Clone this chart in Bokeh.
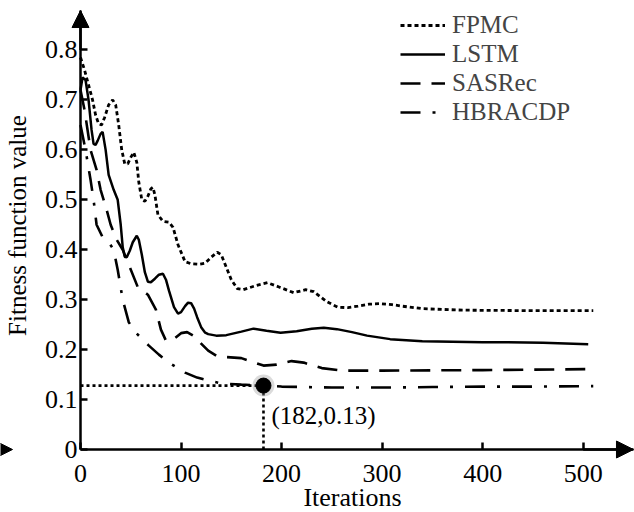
import math
from bokeh.plotting import figure
from bokeh.models import Range1d, FixedTicker, Arrow, NormalHead, Legend, LegendItem, Label
from bokeh.embed import file_html
from bokeh.resources import INLINE

# ---- data ----
x_ticks = [0, 100, 200, 300, 400, 500]
y_ticks = [0, 0.1, 0.2, 0.3, 0.4, 0.5, 0.6, 0.7, 0.8]

fpmc_x = [0, 4, 8, 12, 15, 18, 21, 24, 28, 32, 35, 38, 41, 44, 47, 50, 53, 56, 58, 61, 64, 67,
          70, 72, 74, 77, 82, 88, 92, 97, 104, 110, 118, 124, 130, 136, 140, 145, 150, 156,
          162, 174, 186, 198, 212, 224, 232, 245, 256, 266, 276, 287, 297, 310, 320, 340,
          380, 450, 510]
fpmc_y = [0.785, 0.76, 0.73, 0.70, 0.67, 0.652, 0.65, 0.665, 0.69, 0.70, 0.69, 0.65, 0.60,
          0.572, 0.572, 0.585, 0.595, 0.575, 0.535, 0.50, 0.497, 0.507, 0.522, 0.525, 0.51,
          0.47, 0.457, 0.455, 0.445, 0.41, 0.376, 0.372, 0.371, 0.373, 0.385, 0.395, 0.39,
          0.365, 0.34, 0.322, 0.32, 0.328, 0.334, 0.325, 0.314, 0.32, 0.316, 0.296, 0.285,
          0.284, 0.287, 0.291, 0.292, 0.29, 0.287, 0.282, 0.279, 0.278, 0.278]

lstm_x = [0, 2, 5, 8, 11, 13, 15, 17, 20, 22, 25, 28, 33, 37, 40, 42, 44, 46, 49, 52, 56, 58,
          61, 64, 67, 70, 74, 78, 82, 85, 88, 93, 97, 100, 104, 107, 110, 113, 116, 120, 124,
          127, 135, 145, 160, 172, 185, 199, 215, 230, 242, 255, 270, 285, 308, 340, 400,
          460, 505]
lstm_y = [0.72, 0.745, 0.74, 0.70, 0.64, 0.612, 0.61, 0.618, 0.632, 0.636, 0.60, 0.55, 0.52,
          0.50, 0.45, 0.405, 0.386, 0.385, 0.398, 0.415, 0.428, 0.42, 0.39, 0.355, 0.336,
          0.335, 0.342, 0.35, 0.352, 0.34, 0.318, 0.285, 0.272, 0.275, 0.287, 0.294, 0.293,
          0.282, 0.265, 0.245, 0.234, 0.231, 0.228, 0.229, 0.236, 0.242, 0.238, 0.234, 0.237,
          0.242, 0.244, 0.241, 0.235, 0.228, 0.221, 0.217, 0.215, 0.214, 0.211]

sasrec_x = [0, 4, 10, 16, 20, 26, 30, 36, 42, 48, 57, 67, 75, 80, 85, 92, 100, 106, 112, 120,
            127, 135, 145, 160, 170, 182, 195, 210, 222, 240, 260, 300, 400, 510]
sasrec_y = [0.72, 0.68, 0.60, 0.56, 0.52, 0.48, 0.45, 0.42, 0.40, 0.37, 0.325, 0.31, 0.28,
            0.24, 0.218, 0.22, 0.233, 0.235, 0.228, 0.212, 0.198, 0.188, 0.185, 0.183, 0.176,
            0.168, 0.17, 0.177, 0.174, 0.163, 0.158, 0.158, 0.159, 0.161]

hbracdp_x = [0, 5, 10, 13, 16, 22, 28, 33, 37, 42, 48, 55, 68, 78, 88, 104, 116, 127, 141,
             160, 182, 200, 250, 300, 350, 400, 450, 510]
hbracdp_y = [0.65, 0.60, 0.54, 0.50, 0.45, 0.425, 0.415, 0.40, 0.36, 0.30, 0.255, 0.234,
             0.208, 0.19, 0.174, 0.154, 0.144, 0.138, 0.132, 0.13, 0.128, 0.126, 0.124,
             0.124, 0.125, 0.126, 0.126, 0.127]

best_x = [182]
best_y = [0.128]
best_label = "(182,0.13)"
x_title = "Iterations"
y_title = "Fitness function value"

FONT = "Liberation Serif"
W, H = 634, 512
X0_PX, Y0_PX = 80, 449          # pixel position of the data origin
SX, SY = 1.0054, 499.4          # pixels per data unit
X_AXIS_END, Y_AXIS_END = 550, 0.879

def dx(px):
    return (px - X0_PX) / SX

def dy(py):
    return (Y0_PX - py) / SY

p = figure(width=W, height=H, x_range=Range1d(dx(0), dx(W)), y_range=Range1d(dy(H), dy(0)),
           output_backend="svg", toolbar_location=None, min_border=0)
p.xgrid.visible = False
p.ygrid.visible = False
p.outline_line_color = None
p.background_fill_color = "white"

for ax in (p.xaxis[0], p.yaxis[0]):
    ax.fixed_location = 0
    ax.axis_line_width = 2.5
    ax.axis_line_color = "black"
    ax.major_tick_in = 7
    ax.major_tick_out = 0
    ax.major_tick_line_width = 2.5
    ax.major_tick_line_color = "black"
    ax.minor_tick_line_color = None
    ax.major_label_text_font = FONT
    ax.major_label_text_font_size = "26px"
    ax.major_label_text_color = "black"

p.xaxis.bounds = (0, X_AXIS_END)
p.yaxis.bounds = (0, Y_AXIS_END)
p.xaxis.ticker = FixedTicker(ticks=x_ticks)
p.yaxis.ticker = FixedTicker(ticks=y_ticks)
p.yaxis.major_label_overrides = {0: "0"}
p.xaxis.major_label_standoff = 15
p.yaxis.major_label_standoff = 3

# axis titles
p.add_layout(Label(x=dx(352), y=dy(497), text=x_title, text_font=FONT, text_font_size="26px",
                   text_color="black", text_align="center", text_baseline="alphabetic"))
p.add_layout(Label(x=dx(17), y=dy(225), text=y_title, angle=math.pi / 2,
                   text_font=FONT, text_font_size="25px", text_color="black",
                   text_align="center", text_baseline="alphabetic"))

# axis arrows
head = dict(size=17, fill_color="black", line_color="black")
p.add_layout(Arrow(end=NormalHead(**head), x_start=0, y_start=0.8, x_end=0, y_end=Y_AXIS_END,
                   line_width=2.5, line_color="black"))
p.add_layout(Arrow(end=NormalHead(**head), x_start=500, y_start=0, x_end=X_AXIS_END, y_end=0,
                   line_width=2.5, line_color="black"))
# stray arrow tip at the left edge of the reference image
p.add_layout(Arrow(end=NormalHead(size=14, fill_color="black", line_color="black"),
                   x_start=dx(0), y_start=0, x_end=dx(12), y_end=0, line_alpha=0))

r1 = p.line(fpmc_x, fpmc_y, line_color="black", line_width=2.8, line_dash="4 3")
r2 = p.line(lstm_x, lstm_y, line_color="black", line_width=2.5)
r3 = p.line(sasrec_x, sasrec_y, line_color="black", line_width=2.6, line_dash="20 11")
r4 = p.line(hbracdp_x, hbracdp_y, line_color="black", line_width=2.6, line_dash="20 12 3 12")

# guide lines to the best point
p.line([0, best_x[0]], [best_y[0], best_y[0]], line_color="black", line_width=2.6, line_dash="3 3")
p.line([best_x[0], best_x[0]], [0, best_y[0]], line_color="black", line_width=2.6, line_dash="3 3")
p.scatter(best_x, best_y, size=22, fill_color="#999999", fill_alpha=0.35, line_color=None)
p.scatter(best_x, best_y, size=15, fill_color="black", line_color="black")
p.add_layout(Label(x=best_x[0] + 8, y=0.068, text=best_label, text_font=FONT,
                   text_font_size="25px", text_color="black", text_baseline="alphabetic"))

legend = Legend(items=[LegendItem(label="FPMC", renderers=[r1]),
                       LegendItem(label="LSTM", renderers=[r2]),
                       LegendItem(label="SASRec", renderers=[r3]),
                       LegendItem(label="HBRACDP", renderers=[r4])],
                location=(400, 386), padding=0, margin=0, spacing=1,
                glyph_width=45, glyph_height=24, label_height=24, label_standoff=7,
                label_text_font=FONT, label_text_font_size="25px",
                border_line_color=None, background_fill_alpha=0)
p.add_layout(legend)

open("out.html", "w").write(file_html(p, INLINE))
